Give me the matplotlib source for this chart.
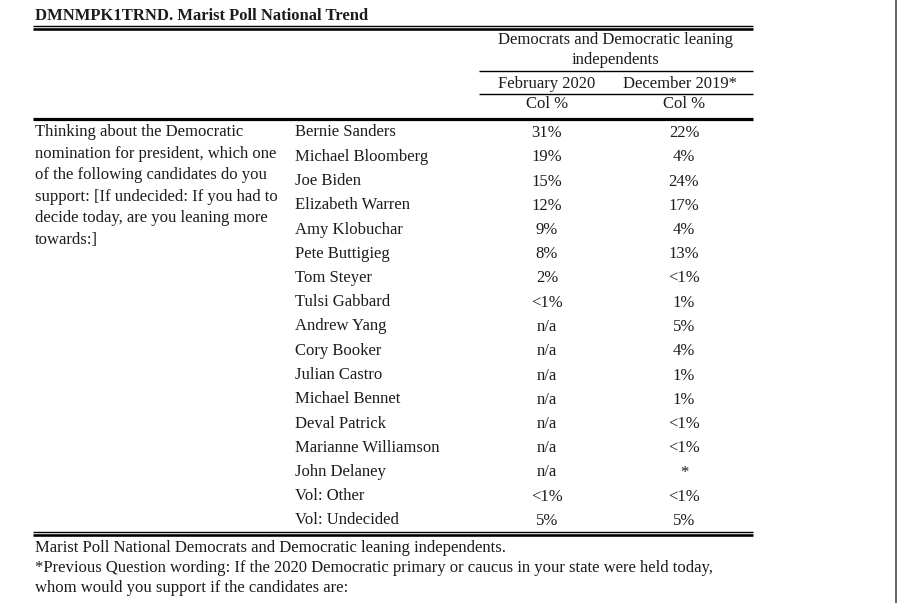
import matplotlib.pyplot as plt

# table content
title = "DMNMPK1TRND. Marist Poll National Trend"
group_header = ["Democrats and Democratic leaning", "independents"]
col_headers = ["February 2020", "December 2019*"]
sub_headers = ["Col %", "Col %"]
question = [
    "Thinking about the Democratic",
    "nomination for president, which one",
    "of the following candidates do you",
    "support: [If undecided: If you had to",
    "decide today, are you leaning more",
    "towards:]",
]
candidates = [
    "Bernie Sanders", "Michael Bloomberg", "Joe Biden", "Elizabeth Warren",
    "Amy Klobuchar", "Pete Buttigieg", "Tom Steyer", "Tulsi Gabbard",
    "Andrew Yang", "Cory Booker", "Julian Castro", "Michael Bennet",
    "Deval Patrick", "Marianne Williamson", "John Delaney", "Vol: Other",
    "Vol: Undecided",
]
feb_2020 = ["31%", "19%", "15%", "12%", "9%", "8%", "2%", "<1%", "n/a", "n/a",
            "n/a", "n/a", "n/a", "n/a", "n/a", "<1%", "5%"]
dec_2019 = ["22%", "4%", "24%", "17%", "4%", "13%", "<1%", "1%", "5%", "4%",
            "1%", "1%", "<1%", "<1%", "*", "<1%", "5%"]
footnotes = [
    "Marist Poll National Democrats and Democratic leaning independents.",
    "*Previous Question wording: If the 2020 Democratic primary or caucus in your state were held today,",
    "whom would you support if the candidates are:",
]

plt.rcParams["font.family"] = ["Liberation Serif", "DejaVu Serif"]
ink = "#1c1c1c"
fs = 12

fig = plt.figure(figsize=(9, 6.03), dpi=100)
ax = fig.add_axes([0, 0, 1, 1])
ax.set_xlim(0, 900)
ax.set_ylim(603, 0)
ax.axis("off")

px = 0.72  # one pixel in points at dpi 100
left, right = 33, 753
col_left = 479
col_x = [547, 684]
dy = 1.5  # nudge so the x-height sits where the reference has it


def hline(y, x0, x1, w):
    ax.plot([x0, x1], [y, y], color="black", lw=w * px, solid_capstyle="butt")


def txt(x, y, s, **kw):
    ax.text(x, y + dy, s, fontsize=fs, color=ink, va="center", **kw)


txt(35, 14, title, fontweight="bold")
hline(26, left, right, 1.4)
hline(29, left, right, 2.6)

txt(615, 38, group_header[0], ha="center")
txt(615, 59, group_header[1], ha="center")
hline(71, col_left, right, 1.4)
for x, h in zip([547, 680], col_headers):
    txt(x, 82, h, ha="center")
hline(94, col_left, right, 1.4)
for x, h in zip(col_x, sub_headers):
    txt(x, 103, h, ha="center")
hline(118.5, left, right, 3.2)

for i, line in enumerate(question):
    txt(35, 131 + i * 21.4, line)

row0, step = 131, 24.25
for i, (name, a, b) in enumerate(zip(candidates, feb_2020, dec_2019)):
    y = row0 + i * step
    txt(295, y, name)
    txt(col_x[0], y + 0.5, a, ha="center")
    txt(col_x[1], y + 0.5, b, ha="center")

hline(532, left, right, 1.4)
hline(535, left, right, 2.6)

for i, line in enumerate(footnotes):
    txt(35, 546 + i * 20.5, line)

# page edge on the right
ax.plot([896, 896], [0, 603], color="#444444", lw=1.6 * px)

fig.savefig("out.png", dpi=100)
